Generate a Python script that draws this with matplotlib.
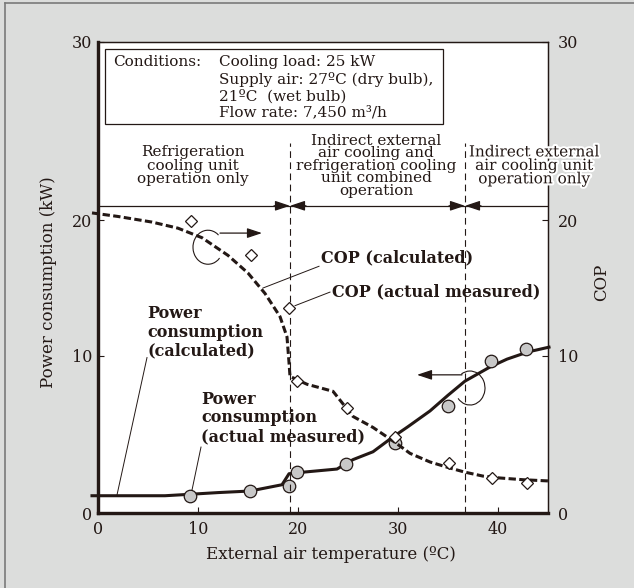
import matplotlib
matplotlib.use("Agg")
import matplotlib.pyplot as plt
import matplotlib.patheffects as pe
import numpy as np
from matplotlib.patches import Arc, Rectangle
from matplotlib.lines import Line2D
from matplotlib.transforms import ScaledTranslation

plt.rcParams["font.family"] = ["DejaVu Serif"]
plt.rcParams["mathtext.fontset"] = "dejavuserif"

INK = "#231815"
BG = "#dcdddc"

# power consumption (kW), calculated curve
power_calc_temp = [-0.6, 6.7, 9.4, 12.0, 15.2, 18.4, 19.1, 20.5, 23.9, 25.5, 27.5,
                   29.4, 31.0, 33.2, 35.0, 36.7, 39.2, 40.9, 43.0, 45.1]
power_calc = [1.1, 1.1, 1.2, 1.3, 1.4, 1.8, 2.5, 2.6, 2.8, 3.4, 3.9,
              4.8, 5.5, 6.5, 7.5, 8.4, 9.3, 9.8, 10.3, 10.65]

# power consumption (kW), measured
power_meas_temp = [9.2, 15.2, 19.1, 19.9, 24.8, 29.7, 35.0, 39.3, 42.8]
power_meas = [1.1, 1.4, 1.7, 2.6, 3.1, 4.45, 6.8, 9.65, 10.5]

# COP, calculated curve
cop_calc_temp = [-0.6, 2.0, 5.4, 8.0, 10.4, 13.0, 15.0, 16.7, 18.2, 18.9, 19.1, 19.2,
                 20.9, 23.5, 25.5, 27.5, 29.7, 31.2, 33.2, 35.0, 36.7, 38.5, 40.2,
                 42.5, 45.1]
cop_calc = [20.4, 20.2, 19.85, 19.4, 18.7, 17.4, 16.1, 14.6, 12.9, 11.4, 9.6, 8.7,
            8.2, 7.75, 6.15, 5.45, 4.5, 3.8, 3.25, 2.9, 2.6, 2.35, 2.23,
            2.12, 2.04]

# COP, measured
cop_meas_temp = [9.3, 15.3, 19.1, 19.9, 24.9, 29.7, 35.1, 39.4, 42.9]
cop_meas = [19.9, 17.4, 13.5, 8.4, 6.7, 4.85, 3.2, 2.2, 1.9]

# boundaries between operating modes (ºC)
mode_bounds = [19.2, 36.7]

y_ticks = [0, 10, 20, 30]
x_ticks = [0, 10, 20, 30, 40]

# the printed vertical axis is not evenly spaced: tick value -> position
scale_vals = [0, 10, 20, 30]
scale_pos = [0, 10.0, 18.66, 30]


def fwd(v):
    v = np.asarray(v, dtype=float)
    return np.interp(v, scale_vals, scale_pos) + \
        np.where(v < 0, v, 0) + np.where(v > 30, v - 30, 0)


def inv(u):
    u = np.asarray(u, dtype=float)
    return np.interp(u, scale_pos, scale_vals) + \
        np.where(u < 0, u, 0) + np.where(u > 30, u - 30, 0)


fig = plt.figure(figsize=(6.34, 5.88), dpi=100, facecolor=BG)
ax = fig.add_axes([98 / 634, 75 / 588, 450 / 634, 471 / 588])
ax.set_facecolor("white")
ax2 = ax.twinx()

for a in (ax, ax2):
    a.set_yscale("function", functions=(fwd, inv))
    a.set_ylim(0, 30)
    a.set_yticks(y_ticks)
    a.set_yticklabels([str(t) for t in y_ticks])
    a.set_xlim(0, 45)
    a.tick_params(direction="in", length=4, width=0.8, colors=INK, labelsize=11.5)

ax.set_xticks(x_ticks)
ax.tick_params(axis="x", pad=6)
ax.tick_params(axis="y", pad=4)
ax2.tick_params(axis="y", pad=7)

for a in (ax, ax2):
    for side in ("left", "bottom"):
        a.spines[side].set_linewidth(2.3)
        a.spines[side].set_color(INK)
    for side in ("top", "right"):
        a.spines[side].set_linewidth(0.9)
        a.spines[side].set_color(INK)

ax.set_xlabel("External air temperature (ºC)", fontsize=12, color=INK)
ax.xaxis.set_label_coords(0.518, -0.07)
ax.set_ylabel("Power consumption (kW)", fontsize=12, color=INK)
ax.yaxis.set_label_coords(-0.092, 0.49)
ax2.set_ylabel("COP", fontsize=12, color=INK)
ax2.yaxis.set_label_coords(1.1, 0.49)

# curves and points
ax.plot(power_calc_temp, power_calc, color=INK, lw=2.2, clip_on=False, zorder=3)
ax.plot(power_meas_temp, power_meas, "o", ms=9, mfc="#c8c8c8", mec=INK, mew=0.9,
        zorder=4)
ax2.plot(cop_calc_temp, cop_calc, color=INK, lw=2.2, dashes=(2.4, 1.1),
         clip_on=False, zorder=3)
ax2.plot(cop_meas_temp, cop_meas, "D", ms=6.2, mfc="white", mec=INK, mew=0.9,
         zorder=5)

# mode boundaries and arrows
arrow_y = 20.8
ax2.plot([0, 45], [arrow_y, arrow_y], color=INK, lw=0.9)
for xb in mode_bounds:
    ax2.plot([xb, xb], [0, 24.3], color=INK, lw=0.8, dashes=(6, 4))
    for dx in (-1.6, 1.6):
        ax2.annotate("", xy=(xb, arrow_y), xytext=(xb + dx, arrow_y),
                     arrowprops=dict(arrowstyle="-|>,head_length=0.9,head_width=0.3",
                                     color=INK, lw=0.9, shrinkA=0, shrinkB=0))

# axis indicators (loop + arrow)
ax2.annotate("", xy=(16.4, 19.04), xytext=(12.2, 19.04),
             arrowprops=dict(arrowstyle="-|>,head_length=0.9,head_width=0.3",
                             color=INK, lw=0.9, shrinkA=0, shrinkB=0))
ax2.add_patch(Arc((0, 0), 0.30, 0.34, theta1=49, theta2=317, color=INK, lw=0.8,
                  transform=fig.dpi_scale_trans + ScaledTranslation(11.0, 18.0, ax2.transData)))
ax2.annotate("", xy=(31.9, 8.8), xytext=(36.4, 8.8),
             arrowprops=dict(arrowstyle="-|>,head_length=0.9,head_width=0.3",
                             color=INK, lw=0.9, shrinkA=0, shrinkB=0))
ax2.add_patch(Arc((0, 0), 0.30, 0.34, theta1=-139, theta2=122, color=INK, lw=0.8,
                  transform=fig.dpi_scale_trans + ScaledTranslation(37.2, 7.96, ax2.transData)))

# leader lines
ax2.plot([4.9, 1.9], [9.9, 1.15], color=INK, lw=0.7)
ax2.plot([10.3, 9.4], [4.2, 1.46], color=INK, lw=0.7)
ax2.plot([22.1, 16.5], [16.6, 15.0], color=INK, lw=0.7)
ax2.plot([23.2, 19.7], [14.7, 13.7], color=INK, lw=0.7)

# curve labels
bold = dict(fontsize=11.5, fontweight="bold", color=INK, transform=ax2.transAxes,
            va="center", ha="left")
ax2.text(0.4956, 0.5414, "COP (calculated)", **bold)
ax2.text(0.52, 0.469, "COP (actual measured)", **bold)
ax2.text(0.109, 0.384, "Power\nconsumption\n(calculated)", linespacing=1.15, **bold)
ax2.text(0.229, 0.2017, "Power\nconsumption\n(actual measured)", linespacing=1.15, **bold)

# operating mode labels
mode = dict(fontsize=11, color=INK, transform=ax2.transAxes, va="center",
            ha="center", multialignment="center", zorder=6)
ax2.text(0.211, 0.737, "Refrigeration\ncooling unit\noperation only", linespacing=0.95, **mode)
ax2.text(0.618, 0.737, "Indirect external\nair cooling and\nrefrigeration cooling\n"
         "unit combined\noperation", linespacing=0.87, **mode)
ax2.text(0.969, 0.737, "Indirect external\nair cooling unit\noperation only",
         linespacing=0.95, clip_on=False,
         path_effects=[pe.withStroke(linewidth=3, foreground="white")], **mode)

# conditions box
ax2.add_patch(Rectangle((0.0156, 0.826), 0.751, 0.16, transform=ax2.transAxes,
                        fill=False, ec=INK, lw=0.9))
cond = dict(fontsize=11, color=INK, transform=ax2.transAxes, va="center", ha="left")
ax2.text(0.033, 0.9575, "Conditions:", **cond)
ax2.text(0.269, 0.9575, "Cooling load: 25 kW", **cond)
ax2.text(0.269, 0.921, "Supply air: 27ºC (dry bulb),", **cond)
ax2.text(0.269, 0.885, "21ºC  (wet bulb)", **cond)
ax2.text(0.269, 0.850, "Flow rate: 7,450 m³/h", **cond)

# outer frame edges
fig.add_artist(Line2D([5 / 634, 5 / 634], [0, 1 - 3 / 588], transform=fig.transFigure,
                      color="#7a7a7a", lw=1.2))
fig.add_artist(Line2D([5 / 634, 1], [1 - 3 / 588, 1 - 3 / 588], transform=fig.transFigure,
                      color="#7a7a7a", lw=1.2))

fig.savefig("out.png", dpi=100, facecolor=fig.get_facecolor())
